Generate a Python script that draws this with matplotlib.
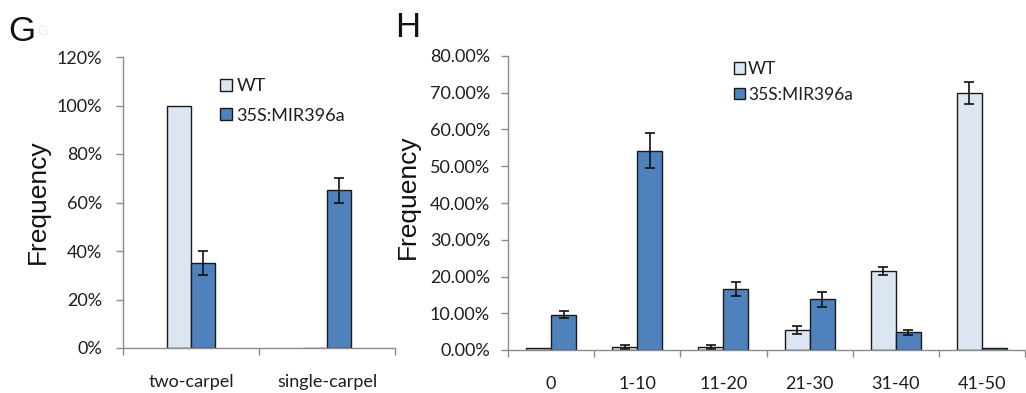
import numpy as np
import matplotlib
matplotlib.use("Agg")
import matplotlib.pyplot as plt
from matplotlib.ticker import FuncFormatter, FixedLocator

# ---------------- data ----------------
g_categories = ["two-carpel", "single-carpel"]
g_wt = [100.0, 0.0]
g_wt_err = [0.0, 0.0]
g_mir = [35.0, 65.0]
g_mir_err = [5.0, 5.0]

h_categories = ["0", "1-10", "11-20", "21-30", "31-40", "41-50"]
h_wt = [0.5, 0.9, 0.9, 5.4, 21.5, 69.9]
h_wt_err = [0.0, 0.5, 0.5, 1.1, 1.2, 3.0]
h_mir = [9.6, 54.2, 16.6, 13.8, 4.8, 0.5]
h_mir_err = [1.0, 4.8, 2.0, 2.0, 0.7, 0.0]

series_names = ["WT", "35S:MIR396a"]

# ---------------- style ----------------
WT_COLOR = "#dce6f2"
MIR_COLOR = "#4f81bd"
EDGE = "#1a1a1a"
AXIS_COLOR = "#8c8c8c"
TEXT_COLOR = "#1e1e1e"
TICK_FONT = "Lato"
TITLE_FONT = "Liberation Sans"

W, H = 1026, 393
fig = plt.figure(figsize=(W / 100, H / 100), dpi=100)


def px_axes(left, top, right, bottom):
    return fig.add_axes([left / W, 1 - bottom / H, (right - left) / W, (bottom - top) / H])


def draw_panel(ax, cats, wt, wt_err, mir, mir_err, width, ymax, ystep, fmt, ypad):
    n = len(cats)
    x = np.arange(n)
    b1 = ax.bar(x - width / 2, wt, width, color=WT_COLOR, edgecolor=EDGE, linewidth=1.0, zorder=2)
    b2 = ax.bar(x + width / 2, mir, width, color=MIR_COLOR, edgecolor=EDGE, linewidth=1.0, zorder=2)
    for xs, vals, errs in ((x - width / 2, wt, wt_err), (x + width / 2, mir, mir_err)):
        errs = np.asarray(errs)
        m = errs > 0
        ax.errorbar(np.asarray(xs)[m], np.asarray(vals)[m], yerr=errs[m], fmt="none",
                    ecolor="#111111", elinewidth=1.2, capsize=3.3, capthick=1.2, zorder=3)
    ax.set_xlim(-0.5, n - 0.5)
    ax.set_ylim(0, ymax)
    ax.set_yticks(np.arange(0, ymax + 0.001, ystep))
    ax.yaxis.set_major_formatter(FuncFormatter(fmt))
    ax.set_xticks(x)
    ax.set_xticklabels(cats)
    ax.xaxis.set_minor_locator(FixedLocator(np.arange(-0.5, n, 1.0)))
    for s in ("top", "right"):
        ax.spines[s].set_visible(False)
    for s in ("left", "bottom"):
        ax.spines[s].set_color(AXIS_COLOR)
        ax.spines[s].set_linewidth(1.0)
        ax.spines[s].set_zorder(4)
    ax.tick_params(axis="x", which="major", length=0, pad=19, labelsize=13, labelcolor=TEXT_COLOR)
    ax.tick_params(axis="x", which="minor", length=5, width=1.0, color=AXIS_COLOR, direction="out")
    ax.tick_params(axis="y", which="major", length=5, width=1.0, color=AXIS_COLOR,
                   direction="out", pad=ypad, labelsize=13, labelcolor=TEXT_COLOR)
    for lab in ax.get_xticklabels() + ax.get_yticklabels():
        lab.set_fontfamily(TICK_FONT)
    ax.patch.set_visible(False)
    return b1, b2


# Panel G
axG = px_axes(123, 57, 395, 348)
bG = draw_panel(axG, g_categories, g_wt, g_wt_err, g_mir, g_mir_err, 0.173, 120, 20,
                lambda v, p: f"{v:.0f}%", 10)
legG = axG.legend(bG, series_names, loc="upper left", frameon=False,
                  bbox_to_anchor=(220 / W, 1 - 78 / H), bbox_transform=fig.transFigure,
                  prop={"family": TICK_FONT, "size": 13}, handlelength=0.65, handleheight=0.65,
                  handletextpad=0.25, labelspacing=0.75, borderpad=0, borderaxespad=0)
for t in legG.get_texts():
    t.set_color(TEXT_COLOR)

# Panel H
axH = px_axes(508, 56, 1025, 350)
bH = draw_panel(axH, h_categories, h_wt, h_wt_err, h_mir, h_mir_err, 0.29, 80, 10,
                lambda v, p: f"{v:.2f}%", 8)
legH = axH.legend(bH, series_names, loc="upper left", frameon=False,
                  bbox_to_anchor=(734 / W, 1 - 61 / H), bbox_transform=fig.transFigure,
                  prop={"family": TICK_FONT, "size": 12.5}, handlelength=0.65, handleheight=0.65,
                  handletextpad=0.15, labelspacing=0.55, borderpad=0, borderaxespad=0)
for t in legH.get_texts():
    t.set_color(TEXT_COLOR)

# Y labels
fig.text(38 / W, 1 - 202 / H, "Frequency", rotation=90, ha="center", va="center",
         fontsize=19, family=TITLE_FONT, color="#111111")
fig.text(408 / W, 1 - 197 / H, "Frequency", rotation=90, ha="center", va="center",
         fontsize=19, family=TITLE_FONT, color="#111111")

# Panel letters
fig.text(8 / W, 1 - 41 / H, "G", fontsize=25, family=TITLE_FONT, color="#111111", ha="left", va="baseline")
fig.text(37 / W, 1 - 35 / H, "G", fontsize=10, family=TITLE_FONT, color="#ececec", ha="left", va="baseline")
fig.text(395 / W, 1 - 37 / H, "H", fontsize=25, family=TITLE_FONT, color="#111111", ha="left", va="baseline")

fig.savefig("out.png", dpi=100, facecolor="white")
